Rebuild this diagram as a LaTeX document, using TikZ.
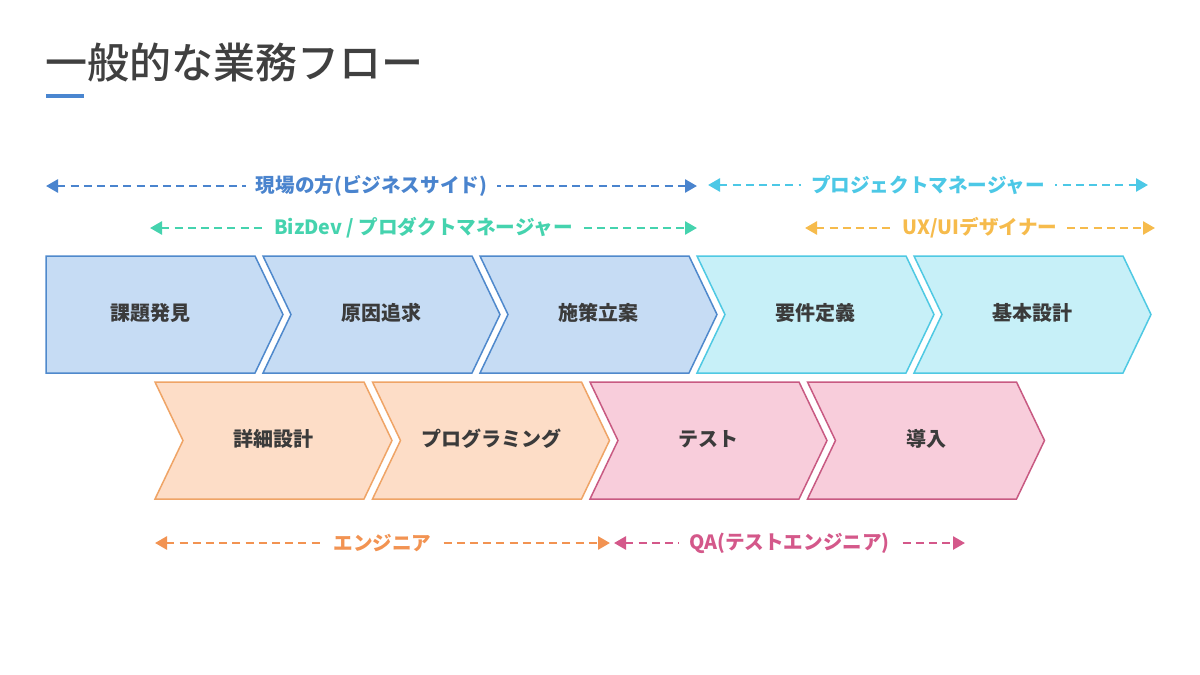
\documentclass[tikz,border=0pt]{standalone}
\usepackage{fontspec}
\setmainfont{Noto Sans CJK JP}
\newfontfamily\titlefont{Noto Sans CJK JP Medium}
\usepackage{xcolor}
\usepackage{tikz}
\usetikzlibrary{arrows.meta}

\definecolor{titlegray}{HTML}{404040}
\definecolor{labelgray}{HTML}{3B3B3B}
\definecolor{barblue}{HTML}{4A86D0}
\definecolor{bizfill}{HTML}{C6DCF4}
\definecolor{bizline}{HTML}{4F89CC}
\definecolor{pmfill}{HTML}{C7F0F8}
\definecolor{pmline}{HTML}{4FC9E3}
\definecolor{engfill}{HTML}{FDDDC7}
\definecolor{engline}{HTML}{EFA466}
\definecolor{qafill}{HTML}{F8CDDB}
\definecolor{qaline}{HTML}{C85A82}
\definecolor{genbacol}{HTML}{4A84CE}
\definecolor{bizdevcol}{HTML}{45D3AE}
\definecolor{pmcol}{HTML}{4CC8E6}
\definecolor{uxcol}{HTML}{F6BB4C}
\definecolor{engcol}{HTML}{F29352}
\definecolor{qacol}{HTML}{D4588A}

\begin{document}
\begin{tikzpicture}[x=0.5pt, y=-0.5pt,
    chevron/.style={line width=0.75pt, line join=miter},
    boxlabel/.style={font=\fontsize{10}{12}\selectfont\bfseries, text=labelgray},
    rolearrow/.style={line width=1.3pt, dash pattern=on 4pt off 2.6pt,
        {Triangle[length=6pt, width=6.5pt]}-{Triangle[length=6pt, width=6.5pt]}},
    rolelabel/.style={font=\fontsize{9.8}{12}\selectfont\bfseries, fill=white,
        inner xsep=5pt, inner ysep=1pt}]

    % Canvas
    \fill[white] (0,0) rectangle (1200,675);
    \useasboundingbox (0,0) rectangle (1200,675);

    % Title
    \node[anchor=west, inner sep=0, text=titlegray,
        font=\fontsize{21}{24}\titlefont] (title) at (45,63) {一般的な業務フロー};
    \fill[barblue] (46,94) rectangle (84,98);

    % Upper row of steps
    \foreach \i/\n/\lab/\fc/\dc in {0/0/課題発見/bizfill/bizline,
                                   1/28/原因追求/bizfill/bizline,
                                   2/28/施策立案/bizfill/bizline,
                                   3/28/要件定義/pmfill/pmline,
                                   4/28/基本設計/pmfill/pmline}
    {
        \pgfmathsetmacro{\L}{46+217*\i}
        \pgfmathsetmacro{\C}{\L+(\n+209)/2}
        \draw[chevron, fill=\fc, draw=\dc] (\L,256) -- ++(209,0) -- ++(28,58.5)
            -- ++(-28,58.5) -- (\L,373) -- ++(\n,-58.5) -- cycle;
        \node[boxlabel] (up\i) at (\C,313) {\lab};
    }

    % Lower row of steps
    \foreach \i/\lab/\fc/\dc in {0/詳細設計/engfill/engline,
                                1/プログラミング/engfill/engline,
                                2/テスト/qafill/qaline,
                                3/導入/qafill/qaline}
    {
        \pgfmathsetmacro{\L}{155+217.5*\i}
        \pgfmathsetmacro{\C}{\L+(28+209)/2}
        \draw[chevron, fill=\fc, draw=\dc] (\L,382) -- ++(209,0) -- ++(28,58.5)
            -- ++(-28,58.5) -- (\L,499) -- ++(28,-58.5) -- cycle;
        \node[boxlabel] (low\i) at (\C,439) {\lab};
    }

    % Roles
    \coordinate (genbaL) at (46,186);
    \coordinate (genbaR) at (697,186);
    \coordinate (pmL) at (708,185);
    \coordinate (pmR) at (1148,185);
    \coordinate (bizdevL) at (150,228);
    \coordinate (bizdevR) at (697,228);
    \coordinate (uxL) at (805,228);
    \coordinate (uxR) at (1155,228);
    \coordinate (engL) at (155,543);
    \coordinate (engR) at (610,543);
    \coordinate (qaL) at (614,543);
    \coordinate (qaR) at (965,543);

    \draw[rolearrow, genbacol] (genbaL) -- node[rolelabel, text=genbacol] (genba) {現場の方(ビジネスサイド)} (genbaR);
    \draw[rolearrow, pmcol] (pmL) -- node[rolelabel, text=pmcol] (pm) {プロジェクトマネージャー} (pmR);
    \draw[rolearrow, bizdevcol] (bizdevL) -- node[rolelabel, text=bizdevcol] (bizdev) {BizDev / プロダクトマネージャー} (bizdevR);
    \draw[rolearrow, uxcol] (uxL) -- node[rolelabel, text=uxcol] (ux) {UX/UIデザイナー} (uxR);
    \draw[rolearrow, engcol] (engL) -- node[rolelabel, text=engcol] (eng) {エンジニア} (engR);
    \draw[rolearrow, qacol] (qaL) -- node[rolelabel, text=qacol] (qa) {QA(テストエンジニア)} (qaR);
\end{tikzpicture}
\end{document}
